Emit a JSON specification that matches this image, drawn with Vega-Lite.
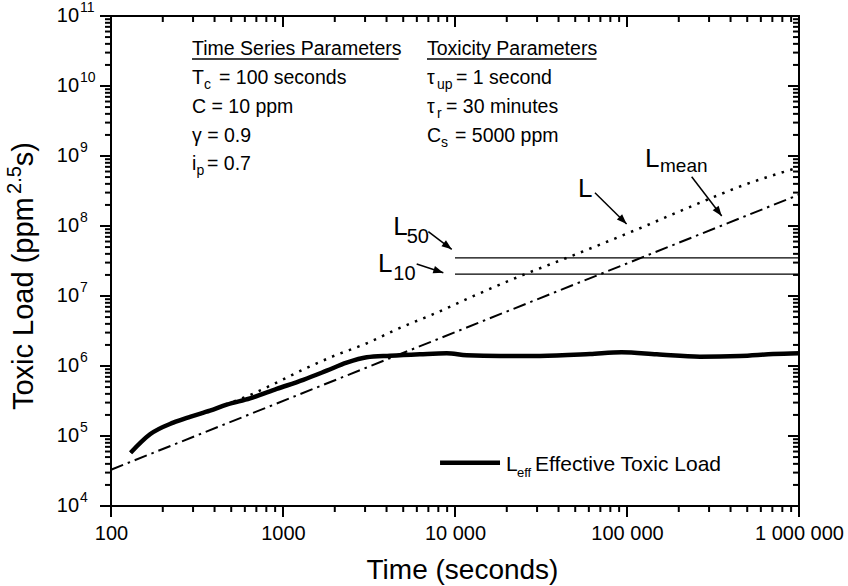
{
  "$schema": "https://vega.github.io/schema/vega-lite/v6.json",
  "width": 688,
  "height": 490,
  "autosize": {"type": "none"},
  "padding": {"left": 111, "top": 16, "right": 49, "bottom": 80},
  "background": "white",
  "config": {"view": {"stroke": "black", "strokeWidth": 2}, "font": "Liberation Sans", "text": {"font": "Liberation Sans", "color": "black"}},
  "datasets": {
    "Leff": [
      {"t": 130, "v": 57700}, {"t": 168.6, "v": 105700}, {"t": 230, "v": 155000}, {"t": 288, "v": 188000},
      {"t": 376, "v": 230000}, {"t": 470.6, "v": 280000}, {"t": 643, "v": 345000}, {"t": 919, "v": 470000},
      {"t": 1312, "v": 635000}, {"t": 1795, "v": 857000}, {"t": 2345, "v": 1115000}, {"t": 3067, "v": 1330000},
      {"t": 4188, "v": 1400000}, {"t": 6250, "v": 1470000}, {"t": 8950, "v": 1520000}, {"t": 11700, "v": 1420000},
      {"t": 18270, "v": 1390000}, {"t": 31200, "v": 1390000}, {"t": 60900, "v": 1480000}, {"t": 93100, "v": 1570000},
      {"t": 148800, "v": 1470000}, {"t": 265700, "v": 1360000}, {"t": 454000, "v": 1390000}, {"t": 706000, "v": 1480000},
      {"t": 1000000, "v": 1520000}
    ],
    "L": [
      {"t": 130, "v": 57700}, {"t": 168.6, "v": 105700}, {"t": 230, "v": 155000}, {"t": 288, "v": 188000},
      {"t": 376, "v": 230000}, {"t": 440, "v": 268000}, {"t": 643, "v": 385000}, {"t": 919, "v": 580000},
      {"t": 1373, "v": 940000}, {"t": 1961, "v": 1380000}, {"t": 3067, "v": 2110000}, {"t": 4788, "v": 3500000},
      {"t": 7476, "v": 5500000}, {"t": 12230, "v": 9500000}, {"t": 24900, "v": 20000000}, {"t": 44600, "v": 35000000},
      {"t": 109000, "v": 85000000}, {"t": 242000, "v": 195000000}, {"t": 472000, "v": 380000000}, {"t": 1000000, "v": 690000000}
    ],
    "Lmean": [{"t": 100, "v": 33000}, {"t": 1000000, "v": 280000000}],
    "thr": [{"t": 10000, "t2": 1000000, "v": 35000000}, {"t": 10000, "t2": 1000000, "v": 20500000}],
    "arrows": [
      {"name": "L50", "t": 6998, "v": 83000000, "t2": 9570, "v2": 46500000},
      {"name": "L10", "t": 5987, "v": 28700000, "t2": 8550, "v2": 21500000},
      {"name": "L", "t": 65100, "v": 299000000, "t2": 99500, "v2": 107000000},
      {"name": "Lmean", "t": 237700, "v": 506000000, "t2": 355400, "v2": 139000000}
    ],
    "ticks": [
      {"t":100,"t2":100,"v":10000,"v2":6960},{"t":200,"t2":200,"v":10000,"v2":8210},{"t":300,"t2":300,"v":10000,"v2":8210},{"t":400,"t2":400,"v":10000,"v2":8210},{"t":500,"t2":500,"v":10000,"v2":8210},{"t":600,"t2":600,"v":10000,"v2":8210},{"t":700,"t2":700,"v":10000,"v2":8210},{"t":800,"t2":800,"v":10000,"v2":8210},{"t":900,"t2":900,"v":10000,"v2":8210},
      {"t":1000,"t2":1000,"v":10000,"v2":6960},{"t":2000,"t2":2000,"v":10000,"v2":8210},{"t":3000,"t2":3000,"v":10000,"v2":8210},{"t":4000,"t2":4000,"v":10000,"v2":8210},{"t":5000,"t2":5000,"v":10000,"v2":8210},{"t":6000,"t2":6000,"v":10000,"v2":8210},{"t":7000,"t2":7000,"v":10000,"v2":8210},{"t":8000,"t2":8000,"v":10000,"v2":8210},{"t":9000,"t2":9000,"v":10000,"v2":8210},
      {"t":10000,"t2":10000,"v":10000,"v2":6960},{"t":20000,"t2":20000,"v":10000,"v2":8210},{"t":30000,"t2":30000,"v":10000,"v2":8210},{"t":40000,"t2":40000,"v":10000,"v2":8210},{"t":50000,"t2":50000,"v":10000,"v2":8210},{"t":60000,"t2":60000,"v":10000,"v2":8210},{"t":70000,"t2":70000,"v":10000,"v2":8210},{"t":80000,"t2":80000,"v":10000,"v2":8210},{"t":90000,"t2":90000,"v":10000,"v2":8210},
      {"t":100000,"t2":100000,"v":10000,"v2":6960},{"t":200000,"t2":200000,"v":10000,"v2":8210},{"t":300000,"t2":300000,"v":10000,"v2":8210},{"t":400000,"t2":400000,"v":10000,"v2":8210},{"t":500000,"t2":500000,"v":10000,"v2":8210},{"t":600000,"t2":600000,"v":10000,"v2":8210},{"t":700000,"t2":700000,"v":10000,"v2":8210},{"t":800000,"t2":800000,"v":10000,"v2":8210},{"t":900000,"t2":900000,"v":10000,"v2":8210},
      {"t":1000000,"t2":1000000,"v":10000,"v2":6960},
      {"t":100,"t2":100,"v":100000000000,"v2":69600000000},{"t":200,"t2":200,"v":100000000000,"v2":82100000000},{"t":300,"t2":300,"v":100000000000,"v2":82100000000},{"t":400,"t2":400,"v":100000000000,"v2":82100000000},{"t":500,"t2":500,"v":100000000000,"v2":82100000000},{"t":600,"t2":600,"v":100000000000,"v2":82100000000},{"t":700,"t2":700,"v":100000000000,"v2":82100000000},{"t":800,"t2":800,"v":100000000000,"v2":82100000000},{"t":900,"t2":900,"v":100000000000,"v2":82100000000},
      {"t":1000,"t2":1000,"v":100000000000,"v2":69600000000},{"t":2000,"t2":2000,"v":100000000000,"v2":82100000000},{"t":3000,"t2":3000,"v":100000000000,"v2":82100000000},{"t":4000,"t2":4000,"v":100000000000,"v2":82100000000},{"t":5000,"t2":5000,"v":100000000000,"v2":82100000000},{"t":6000,"t2":6000,"v":100000000000,"v2":82100000000},{"t":7000,"t2":7000,"v":100000000000,"v2":82100000000},{"t":8000,"t2":8000,"v":100000000000,"v2":82100000000},{"t":9000,"t2":9000,"v":100000000000,"v2":82100000000},
      {"t":10000,"t2":10000,"v":100000000000,"v2":69600000000},{"t":20000,"t2":20000,"v":100000000000,"v2":82100000000},{"t":30000,"t2":30000,"v":100000000000,"v2":82100000000},{"t":40000,"t2":40000,"v":100000000000,"v2":82100000000},{"t":50000,"t2":50000,"v":100000000000,"v2":82100000000},{"t":60000,"t2":60000,"v":100000000000,"v2":82100000000},{"t":70000,"t2":70000,"v":100000000000,"v2":82100000000},{"t":80000,"t2":80000,"v":100000000000,"v2":82100000000},{"t":90000,"t2":90000,"v":100000000000,"v2":82100000000},
      {"t":100000,"t2":100000,"v":100000000000,"v2":69600000000},{"t":200000,"t2":200000,"v":100000000000,"v2":82100000000},{"t":300000,"t2":300000,"v":100000000000,"v2":82100000000},{"t":400000,"t2":400000,"v":100000000000,"v2":82100000000},{"t":500000,"t2":500000,"v":100000000000,"v2":82100000000},{"t":600000,"t2":600000,"v":100000000000,"v2":82100000000},{"t":700000,"t2":700000,"v":100000000000,"v2":82100000000},{"t":800000,"t2":800000,"v":100000000000,"v2":82100000000},{"t":900000,"t2":900000,"v":100000000000,"v2":82100000000},
      {"t":1000000,"t2":1000000,"v":100000000000,"v2":69600000000},
      {"t":100,"t2":86.3,"v":10000,"v2":10000},{"t":100,"t2":92.3,"v":20000,"v2":20000},{"t":100,"t2":92.3,"v":30000,"v2":30000},{"t":100,"t2":92.3,"v":40000,"v2":40000},{"t":100,"t2":92.3,"v":50000,"v2":50000},{"t":100,"t2":92.3,"v":60000,"v2":60000},{"t":100,"t2":92.3,"v":70000,"v2":70000},{"t":100,"t2":92.3,"v":80000,"v2":80000},{"t":100,"t2":92.3,"v":90000,"v2":90000},
      {"t":100,"t2":86.3,"v":100000,"v2":100000},{"t":100,"t2":92.3,"v":200000,"v2":200000},{"t":100,"t2":92.3,"v":300000,"v2":300000},{"t":100,"t2":92.3,"v":400000,"v2":400000},{"t":100,"t2":92.3,"v":500000,"v2":500000},{"t":100,"t2":92.3,"v":600000,"v2":600000},{"t":100,"t2":92.3,"v":700000,"v2":700000},{"t":100,"t2":92.3,"v":800000,"v2":800000},{"t":100,"t2":92.3,"v":900000,"v2":900000},
      {"t":100,"t2":86.3,"v":1000000,"v2":1000000},{"t":100,"t2":92.3,"v":2000000,"v2":2000000},{"t":100,"t2":92.3,"v":3000000,"v2":3000000},{"t":100,"t2":92.3,"v":4000000,"v2":4000000},{"t":100,"t2":92.3,"v":5000000,"v2":5000000},{"t":100,"t2":92.3,"v":6000000,"v2":6000000},{"t":100,"t2":92.3,"v":7000000,"v2":7000000},{"t":100,"t2":92.3,"v":8000000,"v2":8000000},{"t":100,"t2":92.3,"v":9000000,"v2":9000000},
      {"t":100,"t2":86.3,"v":10000000,"v2":10000000},{"t":100,"t2":92.3,"v":20000000,"v2":20000000},{"t":100,"t2":92.3,"v":30000000,"v2":30000000},{"t":100,"t2":92.3,"v":40000000,"v2":40000000},{"t":100,"t2":92.3,"v":50000000,"v2":50000000},{"t":100,"t2":92.3,"v":60000000,"v2":60000000},{"t":100,"t2":92.3,"v":70000000,"v2":70000000},{"t":100,"t2":92.3,"v":80000000,"v2":80000000},{"t":100,"t2":92.3,"v":90000000,"v2":90000000},
      {"t":100,"t2":86.3,"v":100000000,"v2":100000000},{"t":100,"t2":92.3,"v":200000000,"v2":200000000},{"t":100,"t2":92.3,"v":300000000,"v2":300000000},{"t":100,"t2":92.3,"v":400000000,"v2":400000000},{"t":100,"t2":92.3,"v":500000000,"v2":500000000},{"t":100,"t2":92.3,"v":600000000,"v2":600000000},{"t":100,"t2":92.3,"v":700000000,"v2":700000000},{"t":100,"t2":92.3,"v":800000000,"v2":800000000},{"t":100,"t2":92.3,"v":900000000,"v2":900000000},
      {"t":100,"t2":86.3,"v":1000000000,"v2":1000000000},{"t":100,"t2":92.3,"v":2000000000,"v2":2000000000},{"t":100,"t2":92.3,"v":3000000000,"v2":3000000000},{"t":100,"t2":92.3,"v":4000000000,"v2":4000000000},{"t":100,"t2":92.3,"v":5000000000,"v2":5000000000},{"t":100,"t2":92.3,"v":6000000000,"v2":6000000000},{"t":100,"t2":92.3,"v":7000000000,"v2":7000000000},{"t":100,"t2":92.3,"v":8000000000,"v2":8000000000},{"t":100,"t2":92.3,"v":9000000000,"v2":9000000000},
      {"t":100,"t2":86.3,"v":10000000000,"v2":10000000000},{"t":100,"t2":92.3,"v":20000000000,"v2":20000000000},{"t":100,"t2":92.3,"v":30000000000,"v2":30000000000},{"t":100,"t2":92.3,"v":40000000000,"v2":40000000000},{"t":100,"t2":92.3,"v":50000000000,"v2":50000000000},{"t":100,"t2":92.3,"v":60000000000,"v2":60000000000},{"t":100,"t2":92.3,"v":70000000000,"v2":70000000000},{"t":100,"t2":92.3,"v":80000000000,"v2":80000000000},{"t":100,"t2":92.3,"v":90000000000,"v2":90000000000},
      {"t":100,"t2":86.3,"v":100000000000,"v2":100000000000},
      {"t":1000000,"t2":863000,"v":10000,"v2":10000},{"t":1000000,"t2":923000,"v":20000,"v2":20000},{"t":1000000,"t2":923000,"v":30000,"v2":30000},{"t":1000000,"t2":923000,"v":40000,"v2":40000},{"t":1000000,"t2":923000,"v":50000,"v2":50000},{"t":1000000,"t2":923000,"v":60000,"v2":60000},{"t":1000000,"t2":923000,"v":70000,"v2":70000},{"t":1000000,"t2":923000,"v":80000,"v2":80000},{"t":1000000,"t2":923000,"v":90000,"v2":90000},
      {"t":1000000,"t2":863000,"v":100000,"v2":100000},{"t":1000000,"t2":923000,"v":200000,"v2":200000},{"t":1000000,"t2":923000,"v":300000,"v2":300000},{"t":1000000,"t2":923000,"v":400000,"v2":400000},{"t":1000000,"t2":923000,"v":500000,"v2":500000},{"t":1000000,"t2":923000,"v":600000,"v2":600000},{"t":1000000,"t2":923000,"v":700000,"v2":700000},{"t":1000000,"t2":923000,"v":800000,"v2":800000},{"t":1000000,"t2":923000,"v":900000,"v2":900000},
      {"t":1000000,"t2":863000,"v":1000000,"v2":1000000},{"t":1000000,"t2":923000,"v":2000000,"v2":2000000},{"t":1000000,"t2":923000,"v":3000000,"v2":3000000},{"t":1000000,"t2":923000,"v":4000000,"v2":4000000},{"t":1000000,"t2":923000,"v":5000000,"v2":5000000},{"t":1000000,"t2":923000,"v":6000000,"v2":6000000},{"t":1000000,"t2":923000,"v":7000000,"v2":7000000},{"t":1000000,"t2":923000,"v":8000000,"v2":8000000},{"t":1000000,"t2":923000,"v":9000000,"v2":9000000},
      {"t":1000000,"t2":863000,"v":10000000,"v2":10000000},{"t":1000000,"t2":923000,"v":20000000,"v2":20000000},{"t":1000000,"t2":923000,"v":30000000,"v2":30000000},{"t":1000000,"t2":923000,"v":40000000,"v2":40000000},{"t":1000000,"t2":923000,"v":50000000,"v2":50000000},{"t":1000000,"t2":923000,"v":60000000,"v2":60000000},{"t":1000000,"t2":923000,"v":70000000,"v2":70000000},{"t":1000000,"t2":923000,"v":80000000,"v2":80000000},{"t":1000000,"t2":923000,"v":90000000,"v2":90000000},
      {"t":1000000,"t2":863000,"v":100000000,"v2":100000000},{"t":1000000,"t2":923000,"v":200000000,"v2":200000000},{"t":1000000,"t2":923000,"v":300000000,"v2":300000000},{"t":1000000,"t2":923000,"v":400000000,"v2":400000000},{"t":1000000,"t2":923000,"v":500000000,"v2":500000000},{"t":1000000,"t2":923000,"v":600000000,"v2":600000000},{"t":1000000,"t2":923000,"v":700000000,"v2":700000000},{"t":1000000,"t2":923000,"v":800000000,"v2":800000000},{"t":1000000,"t2":923000,"v":900000000,"v2":900000000},
      {"t":1000000,"t2":863000,"v":1000000000,"v2":1000000000},{"t":1000000,"t2":923000,"v":2000000000,"v2":2000000000},{"t":1000000,"t2":923000,"v":3000000000,"v2":3000000000},{"t":1000000,"t2":923000,"v":4000000000,"v2":4000000000},{"t":1000000,"t2":923000,"v":5000000000,"v2":5000000000},{"t":1000000,"t2":923000,"v":6000000000,"v2":6000000000},{"t":1000000,"t2":923000,"v":7000000000,"v2":7000000000},{"t":1000000,"t2":923000,"v":8000000000,"v2":8000000000},{"t":1000000,"t2":923000,"v":9000000000,"v2":9000000000},
      {"t":1000000,"t2":863000,"v":10000000000,"v2":10000000000},{"t":1000000,"t2":923000,"v":20000000000,"v2":20000000000},{"t":1000000,"t2":923000,"v":30000000000,"v2":30000000000},{"t":1000000,"t2":923000,"v":40000000000,"v2":40000000000},{"t":1000000,"t2":923000,"v":50000000000,"v2":50000000000},{"t":1000000,"t2":923000,"v":60000000000,"v2":60000000000},{"t":1000000,"t2":923000,"v":70000000000,"v2":70000000000},{"t":1000000,"t2":923000,"v":80000000000,"v2":80000000000},{"t":1000000,"t2":923000,"v":90000000000,"v2":90000000000},
      {"t":1000000,"t2":863000,"v":100000000000,"v2":100000000000}
    ],
    "params": [
      {"t": 295.8, "v": 27730000000, "txt": "Time Series Parameters"},
      {"t": 6874, "v": 27730000000, "txt": "Toxicity Parameters"},
      {"t": 295.8, "v": 10680000000, "txt": "T"},
      {"t": 424.5, "v": 10680000000, "txt": "= 100 seconds"},
      {"t": 295.8, "v": 4115000000, "txt": "C = 10 ppm"},
      {"t": 295.8, "v": 1585000000, "txt": "γ = 0.9"},
      {"t": 295.8, "v": 631000000, "txt": "i"},
      {"t": 361.5, "v": 631000000, "txt": "= 0.7"},
      {"t": 6874, "v": 10680000000, "txt": "τ"},
      {"t": 10134, "v": 10680000000, "txt": "= 1 second"},
      {"t": 6874, "v": 4115000000, "txt": "τ"},
      {"t": 8867, "v": 4115000000, "txt": "= 30 minutes"},
      {"t": 6874, "v": 1585000000, "txt": "C"},
      {"t": 10000, "v": 1585000000, "txt": "= 5000 ppm"}
    ],
    "paramsub": [
      {"t": 347.3, "v": 10680000000, "txt": "c"},
      {"t": 314.2, "v": 631000000, "txt": "p"},
      {"t": 7858, "v": 10680000000, "txt": "up"},
      {"t": 7858, "v": 4115000000, "txt": "r"},
      {"t": 8291, "v": 1585000000, "txt": "s"}
    ],
    "underline": [{"t": 295.8, "t2": 4700, "v": 24300000000}, {"t": 6874, "t2": 66500, "v": 24300000000}],
    "lab": [
      {"t": 4377, "v": 74300000, "txt": "L"},
      {"t": 3566, "v": 22200000, "txt": "L"},
      {"t": 51900, "v": 260000000, "txt": "L"},
      {"t": 127300, "v": 696000000, "txt": "L"}
    ],
    "labsub": [{"t": 5239, "v": 74300000, "txt": "50"}, {"t": 4378, "v": 22200000, "txt": "10"}],
    "labmean": [{"t": 155600, "v": 696000000, "txt": "mean"}],
    "legline": [{"t": 8185, "t2": 18270, "v": 41600}],
    "legtext": [{"t": 19790, "v": 31930, "txt": "L"}, {"t": 29180, "v": 31930, "txt": "Effective Toxic Load"}],
    "legsub": [{"t": 22930, "v": 31930, "txt": "eff"}],
    "ylab": [
      {"t": 65.2, "v": 10000, "txt": "10", "e": "4"},
      {"t": 65.2, "v": 100000, "txt": "10", "e": "5"},
      {"t": 65.2, "v": 1000000, "txt": "10", "e": "6"},
      {"t": 65.2, "v": 10000000, "txt": "10", "e": "7"},
      {"t": 65.2, "v": 100000000, "txt": "10", "e": "8"},
      {"t": 65.2, "v": 1000000000, "txt": "10", "e": "9"},
      {"t": 65.2, "v": 10000000000, "txt": "10", "e": "10"},
      {"t": 65.2, "v": 100000000000, "txt": "10", "e": "11"}
    ],
    "ytitle": [{"t": 35.2, "v": 235000, "txt": "Toxic Load (ppm"}, {"t": 35.2, "v": 715000000, "txt": "s)"}],
    "ytitlesup": [{"t": 30, "v": 286600000, "txt": "2.5"}]
  },
  "encoding": {
    "x": {"field": "t", "type": "quantitative", "scale": {"type": "log", "domain": [100, 1000000], "nice": false}, "axis": null},
    "y": {"field": "v", "type": "quantitative", "scale": {"type": "log", "domain": [10000, 100000000000], "nice": false}, "axis": null}
  },
  "layer": [
    {
      "data": {"name": "L"},
      "mark": {"type": "line", "color": "black", "strokeWidth": 2.5, "strokeDash": [2.5, 6.5], "interpolate": "monotone"}
    },
    {
      "data": {"name": "Leff"},
      "mark": {"type": "line", "color": "black", "strokeWidth": 4.5, "interpolate": "monotone"},
      "encoding": {
        "x": {"field": "t", "type": "quantitative", "scale": {"type": "log", "domain": [100, 1000000], "nice": false},
          "axis": {"orient": "bottom", "grid": false, "ticks": false, "domain": false, "tickSize": 0,
            "values": [100,1000,10000,100000,1000000],
            "labelExpr": "datum.value == 100 ? '100' : datum.value == 1000 ? '1000' : datum.value == 10000 ? '10 000' : datum.value == 100000 ? '100 000' : '1 000 000'",
            "labelFont": "Liberation Sans", "labelFontSize": 20, "labelColor": "black", "labelPadding": 17,
            "labelOverlap": false, "labelFlush": false, "labelBound": false,
            "title": "Time (seconds)", "titleFont": "Liberation Sans", "titleFontSize": 28, "titleFontWeight": "normal",
            "titleColor": "black", "titleX": 351, "titleY": 72, "titleAlign": "center", "titleBaseline": "alphabetic"}}
      }
    },
    {
      "data": {"name": "Lmean"},
      "mark": {"type": "line", "color": "black", "strokeWidth": 2, "strokeDash": [13, 5, 2.5, 5]}
    },
    {
      "data": {"name": "thr"},
      "mark": {"type": "rule", "color": "black", "strokeWidth": 1.3},
      "encoding": {"x2": {"field": "t2"}}
    },
    {
      "data": {"name": "arrows"},
      "mark": {"type": "rule", "color": "black", "strokeWidth": 1.5},
      "encoding": {"x2": {"field": "t2"}, "y2": {"field": "v2"}}
    },
    {
      "data": {"name": "arrows"},
      "transform": [{"filter": "datum.name == 'L50'"}],
      "mark": {"type": "point", "shape": "M0,0L-2,-0.75L-2,0.75Z", "filled": true, "color": "black", "opacity": 1, "size": 100, "angle": 36.9},
      "encoding": {
        "x": {"field": "t2", "type": "quantitative", "scale": {"type": "log", "domain": [100, 1000000], "nice": false}, "axis": null},
        "y": {"field": "v2", "type": "quantitative", "scale": {"type": "log", "domain": [10000, 100000000000], "nice": false}, "axis": null}
      }
    },
    {
      "data": {"name": "arrows"},
      "transform": [{"filter": "datum.name == 'L10'"}],
      "mark": {"type": "point", "shape": "M0,0L-2,-0.75L-2,0.75Z", "filled": true, "color": "black", "opacity": 1, "size": 100, "angle": 18.1},
      "encoding": {
        "x": {"field": "t2", "type": "quantitative", "scale": {"type": "log", "domain": [100, 1000000], "nice": false}, "axis": null},
        "y": {"field": "v2", "type": "quantitative", "scale": {"type": "log", "domain": [10000, 100000000000], "nice": false}, "axis": null}
      }
    },
    {
      "data": {"name": "arrows"},
      "transform": [{"filter": "datum.name == 'L'"}],
      "mark": {"type": "point", "shape": "M0,0L-2,-0.75L-2,0.75Z", "filled": true, "color": "black", "opacity": 1, "size": 100, "angle": 44.6},
      "encoding": {
        "x": {"field": "t2", "type": "quantitative", "scale": {"type": "log", "domain": [100, 1000000], "nice": false}, "axis": null},
        "y": {"field": "v2", "type": "quantitative", "scale": {"type": "log", "domain": [10000, 100000000000], "nice": false}, "axis": null}
      }
    },
    {
      "data": {"name": "arrows"},
      "transform": [{"filter": "datum.name == 'Lmean'"}],
      "mark": {"type": "point", "shape": "M0,0L-2,-0.75L-2,0.75Z", "filled": true, "color": "black", "opacity": 1, "size": 100, "angle": 52.6},
      "encoding": {
        "x": {"field": "t2", "type": "quantitative", "scale": {"type": "log", "domain": [100, 1000000], "nice": false}, "axis": null},
        "y": {"field": "v2", "type": "quantitative", "scale": {"type": "log", "domain": [10000, 100000000000], "nice": false}, "axis": null}
      }
    },
    {
      "data": {"name": "legline"},
      "mark": {"type": "rule", "color": "black", "strokeWidth": 4.5},
      "encoding": {"x2": {"field": "t2"}}
    },
    {
      "data": {"name": "underline"},
      "mark": {"type": "rule", "color": "black", "strokeWidth": 1.3},
      "encoding": {"x2": {"field": "t2"}}
    },
    {
      "data": {"name": "params"},
      "mark": {"type": "text", "align": "left", "baseline": "alphabetic", "fontSize": 19.5, "font": "Liberation Sans", "color": "black"},
      "encoding": {"text": {"field": "txt"}}
    },
    {
      "data": {"name": "paramsub"},
      "mark": {"type": "text", "align": "left", "baseline": "alphabetic", "fontSize": 14, "dy": 5, "font": "Liberation Sans", "color": "black"},
      "encoding": {"text": {"field": "txt"}}
    },
    {
      "data": {"name": "lab"},
      "mark": {"type": "text", "align": "left", "baseline": "alphabetic", "fontSize": 26, "font": "Liberation Sans", "color": "black"},
      "encoding": {"text": {"field": "txt"}}
    },
    {
      "data": {"name": "labsub"},
      "mark": {"type": "text", "align": "left", "baseline": "alphabetic", "fontSize": 20, "dy": 8, "font": "Liberation Sans", "color": "black"},
      "encoding": {"text": {"field": "txt"}}
    },
    {
      "data": {"name": "labmean"},
      "mark": {"type": "text", "align": "left", "baseline": "alphabetic", "fontSize": 19, "dy": 5, "font": "Liberation Sans", "color": "black"},
      "encoding": {"text": {"field": "txt"}}
    },
    {
      "data": {"name": "legtext"},
      "mark": {"type": "text", "align": "left", "baseline": "alphabetic", "fontSize": 21, "font": "Liberation Sans", "color": "black"},
      "encoding": {"text": {"field": "txt"}}
    },
    {
      "data": {"name": "legsub"},
      "mark": {"type": "text", "align": "left", "baseline": "alphabetic", "fontSize": 13, "dy": 6, "font": "Liberation Sans", "color": "black"},
      "encoding": {"text": {"field": "txt"}}
    },
    {
      "data": {"name": "ylab"},
      "mark": {"type": "text", "align": "right", "baseline": "middle", "fontSize": 20, "font": "Liberation Sans", "color": "black"},
      "encoding": {"text": {"field": "txt"}}
    },
    {
      "data": {"name": "ylab"},
      "mark": {"type": "text", "align": "left", "baseline": "middle", "fontSize": 14, "dx": 1, "dy": -8, "font": "Liberation Sans", "color": "black"},
      "encoding": {"text": {"field": "e"}}
    },
    {
      "data": {"name": "ytitle"},
      "mark": {"type": "text", "align": "left", "baseline": "alphabetic", "fontSize": 29, "angle": 270, "font": "Liberation Sans", "color": "black"},
      "encoding": {"text": {"field": "txt"}}
    },
    {
      "data": {"name": "ytitlesup"},
      "mark": {"type": "text", "align": "left", "baseline": "alphabetic", "fontSize": 20, "angle": 270, "font": "Liberation Sans", "color": "black"},
      "encoding": {"text": {"field": "txt"}}
    },
    {
      "data": {"name": "ticks"},
      "mark": {"type": "rule", "color": "black", "strokeWidth": 2, "opacity": 1, "clip": false},
      "encoding": {"x2": {"field": "t2"}, "y2": {"field": "v2"}}
    }
  ],
  "resolve": {"axis": {"x": "independent", "y": "independent"}}
}
